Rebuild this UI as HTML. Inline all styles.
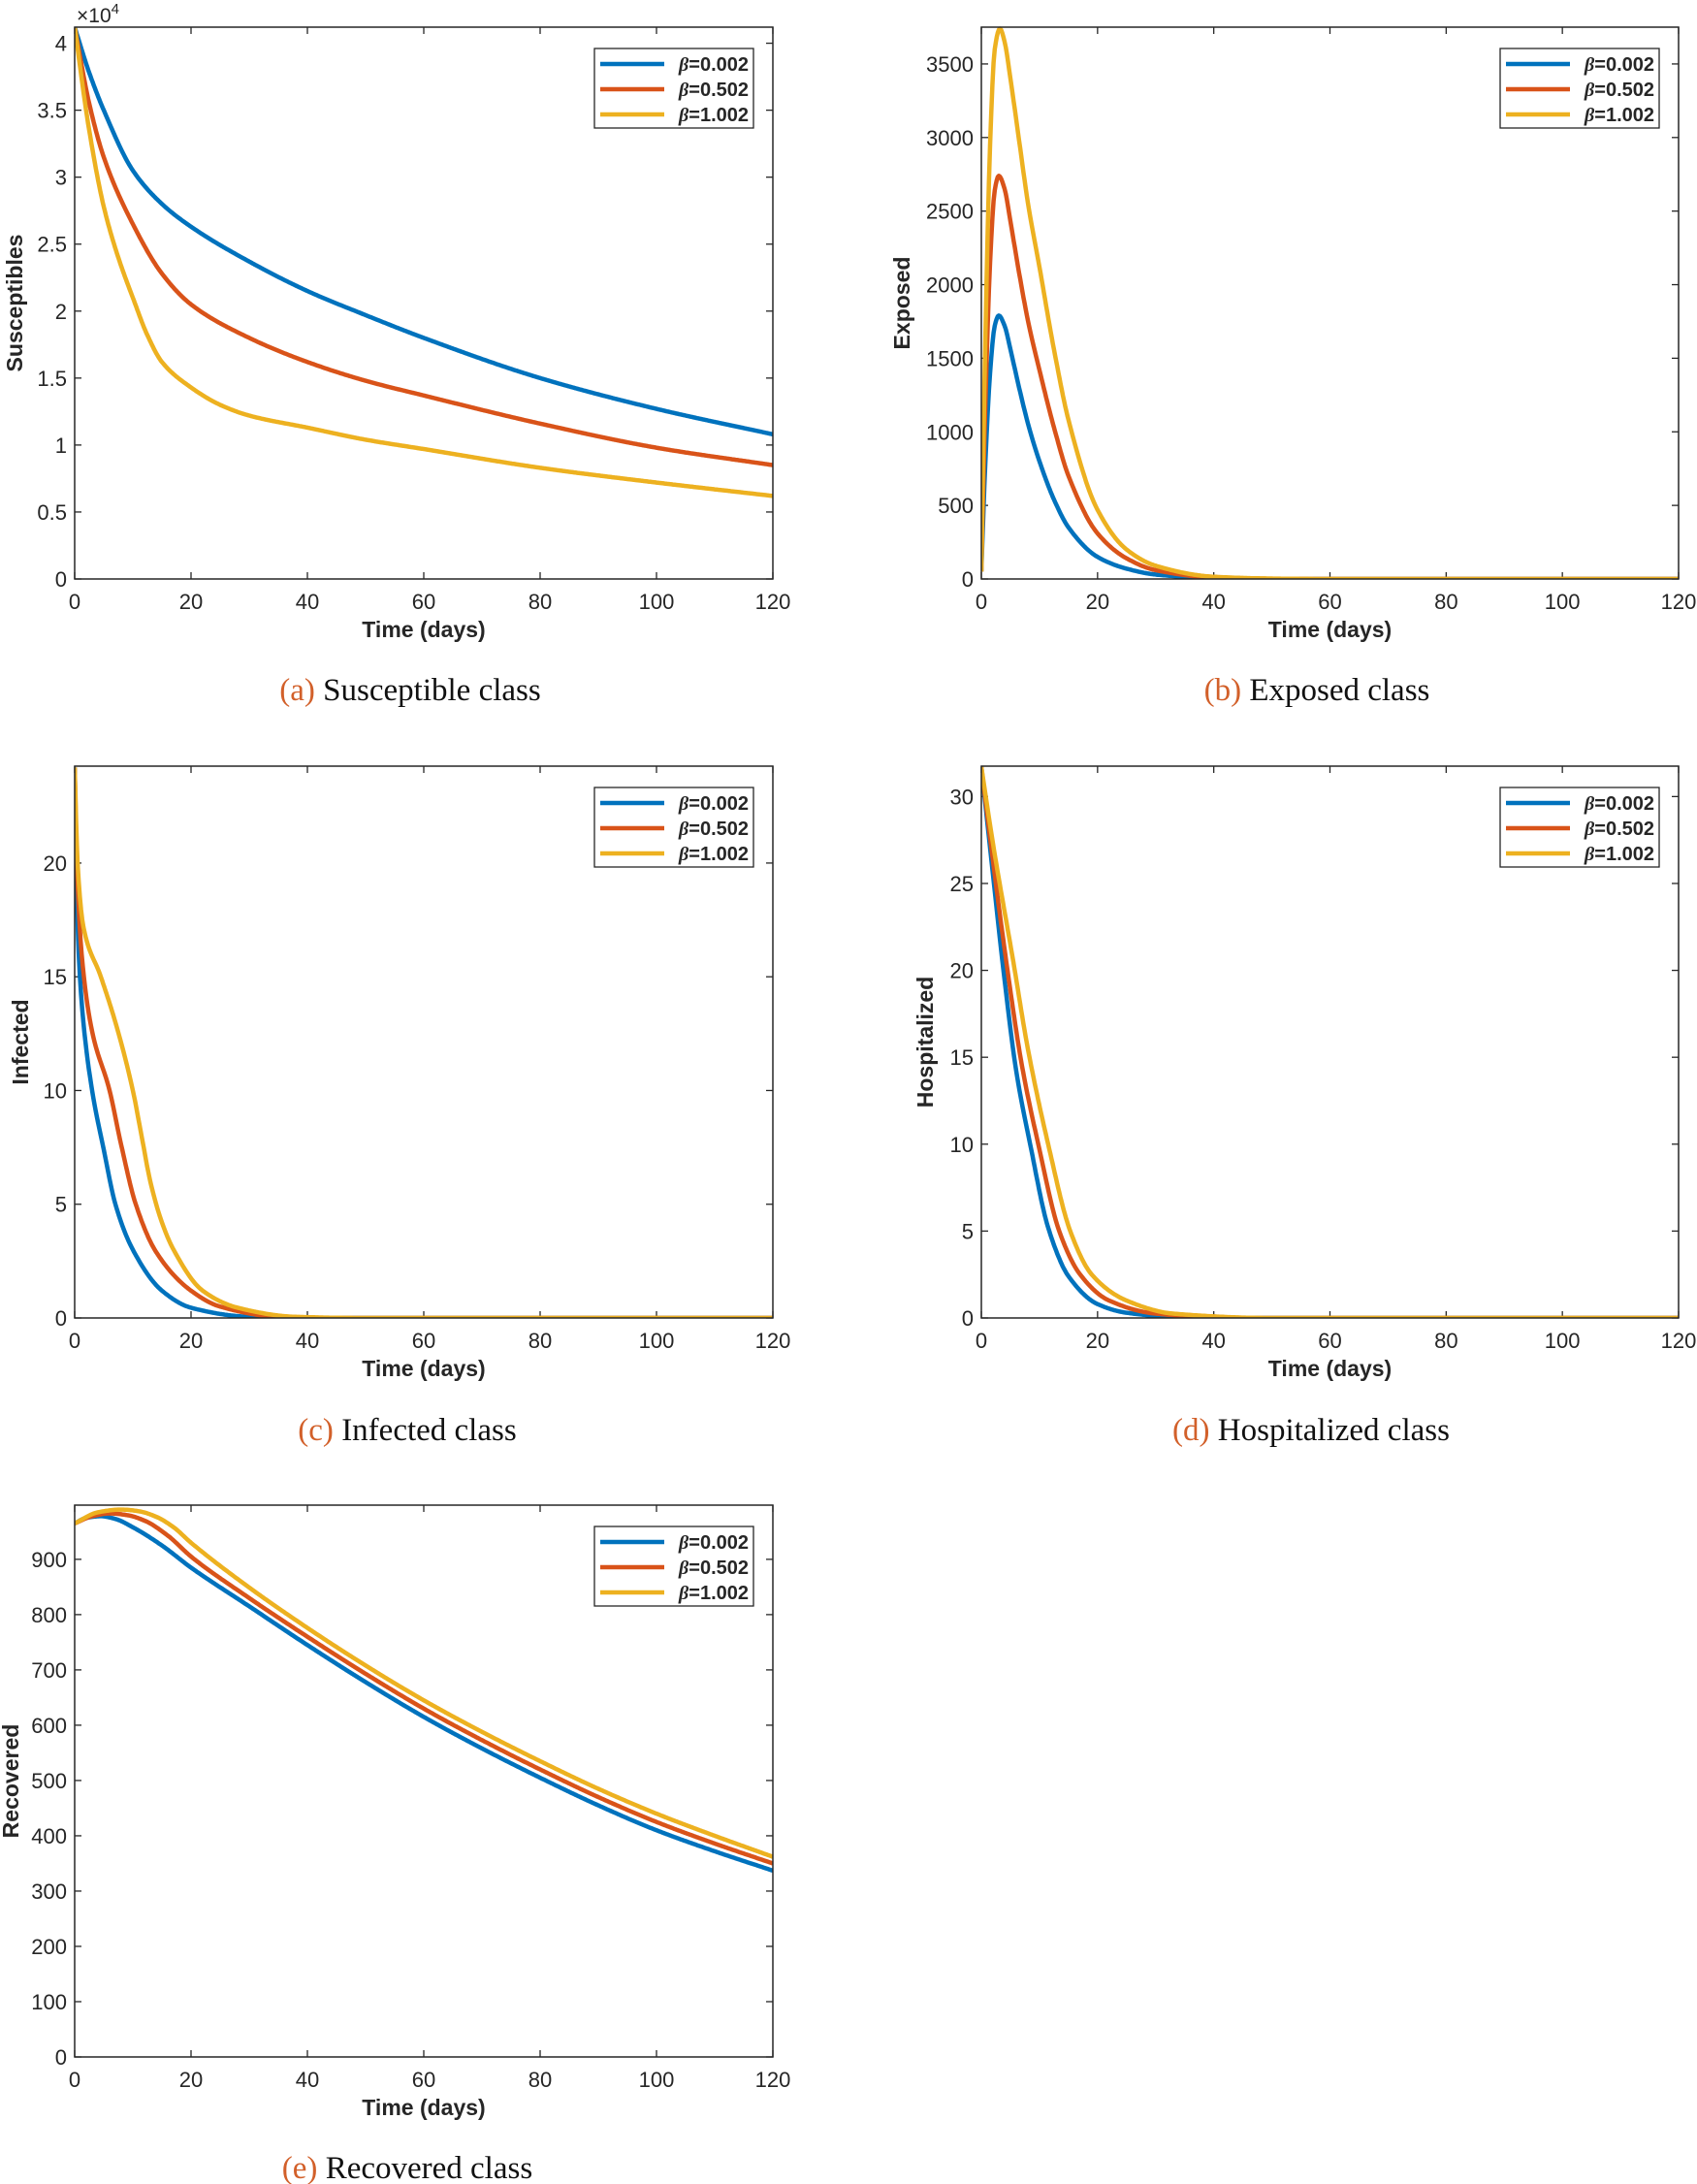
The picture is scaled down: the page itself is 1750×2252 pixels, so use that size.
<!DOCTYPE html>
<html><head><meta charset="utf-8">
<style>
body{margin:0;background:#fff;}
svg{display:block;}
text{font-family:"Liberation Sans",Arial,sans-serif;fill:#262626;}
.cap{font-family:"Liberation Serif",serif;font-size:33px;fill:#111;}
.capl{fill:#d2602a;}
</style></head>
<body>
<svg id="s" width="1750" height="2252" xmlns="http://www.w3.org/2000/svg"></svg>
<script>
const S=document.getElementById('s');
let out='';
const C=['#0072BD','#D95319','#EDB120'];
function mono(pts){
  const n=pts.length,x=pts.map(p=>p[0]),y=pts.map(p=>p[1]);
  const d=[],m=[];
  for(let i=0;i<n-1;i++)d.push((y[i+1]-y[i])/(x[i+1]-x[i]));
  m[0]=d[0];m[n-1]=d[n-2];
  for(let i=1;i<n-1;i++){
    if(d[i-1]*d[i]<=0)m[i]=0;
    else{const h0=x[i]-x[i-1],h1=x[i+1]-x[i];const w1=2*h1+h0,w2=h1+2*h0;m[i]=(w1+w2)/(w1/d[i-1]+w2/d[i]);}
  }
  // local max detection keeps 0 slope; fine
  const res=[];
  for(let i=0;i<n-1;i++){
    const h=x[i+1]-x[i];const steps=Math.max(4,Math.ceil(h/0.2));
    for(let k=0;k<steps;k++){
      const t=k/steps,t2=t*t,t3=t2*t;
      const v=(2*t3-3*t2+1)*y[i]+(t3-2*t2+t)*h*m[i]+(-2*t3+3*t2)*y[i+1]+(t3-t2)*h*m[i+1];
      res.push([x[i]+t*h,v]);
    }
  }
  res.push(pts[n-1]);
  return res;
}
function path(pts,X,Y){
  const p=mono(pts);
  return 'M'+p.map(a=>X(a[0]).toFixed(1)+','+Y(a[1]).toFixed(1)).join('L');
}
function plot(o){
  const L=o.x,T=o.y,W=o.w,H=o.h,R=L+W,B=T+H;
  const X=t=>L+t/120*W, Y=v=>B-v/o.ymax*H;
  out+=`<defs><clipPath id="c${o.id}"><rect x="${L}" y="${T-3}" width="${W}" height="${H+3}"/></clipPath></defs>`;
  for(let t=0;t<=120;t+=20){const x=X(t);
    out+=`<line x1="${x}" y1="${B}" x2="${x}" y2="${B-7}" stroke="#262626" stroke-width="1.3"/><line x1="${x}" y1="${T}" x2="${x}" y2="${T+7}" stroke="#262626" stroke-width="1.3"/>`;
    out+=`<text x="${x}" y="${B+31}" font-size="22" text-anchor="middle">${t}</text>`;}
  o.yt.forEach(v=>{const y=Y(v);
    out+=`<line x1="${L}" y1="${y}" x2="${L+7}" y2="${y}" stroke="#262626" stroke-width="1.3"/><line x1="${R}" y1="${y}" x2="${R-7}" y2="${y}" stroke="#262626" stroke-width="1.3"/>`;
    out+=`<text x="${L-8}" y="${y+8}" font-size="22" text-anchor="end">${v}</text>`;});
  o.series.forEach((s,i)=>{out+=`<path d="${path(s,X,Y)}" fill="none" stroke="${C[i]}" stroke-width="4.5" stroke-linejoin="round" clip-path="url(#c${o.id})"/>`;});
  out+=`<rect x="${L}" y="${T}" width="${W}" height="${H}" fill="none" stroke="#262626" stroke-width="1.5"/>`;
  const lx=R-184,ly=T+22;
  out+=`<rect x="${lx}" y="${ly}" width="164" height="82" fill="#fff" stroke="#262626" stroke-width="1.3"/>`;
  ['0.002','0.502','1.002'].forEach((b,i)=>{const yy=ly+16+i*26;
    out+=`<line x1="${lx+6}" y1="${yy}" x2="${lx+72}" y2="${yy}" stroke="${C[i]}" stroke-width="4.5"/>`;
    out+=`<text x="${lx+159}" y="${yy+7}" font-size="20" font-weight="bold" text-anchor="end"><tspan font-family="Liberation Serif" font-style="italic">β</tspan>=${b}</text>`;});
  out+=`<text x="${(L+R)/2}" y="${B+60}" font-size="23" font-weight="bold" text-anchor="middle">Time (days)</text>`;
  out+=`<text transform="translate(${o.lx},${(T+B)/2}) rotate(-90)" font-size="23" font-weight="bold" text-anchor="middle">${o.label}</text>`;
  out+=`<text class="cap" x="${o.cx}" y="${o.cy}" text-anchor="middle"><tspan class="capl">(${o.id})</tspan> ${o.cap}</text>`;
}
plot({id:'a',x:77,y:28,w:720,h:569,ymax:4.12,yt:[0,0.5,1,1.5,2,2.5,3,3.5,4],label:'Susceptibles',lx:23,cap:'Susceptible class',cx:423,cy:722,
series:[
[[0,4.12],[2.5,3.78],[5,3.5],[10,3.05],[15,2.8],[20,2.63],[30,2.37],[40,2.15],[50,1.97],[60,1.8],[80,1.5],[100,1.27],[120,1.08]],
[[0,4.12],[2.5,3.55],[5,3.15],[10,2.65],[15,2.28],[20,2.05],[30,1.8],[40,1.62],[50,1.48],[60,1.37],[80,1.16],[100,0.98],[120,0.85]],
[[0,4.12],[2.5,3.35],[5,2.78],[7.5,2.4],[10,2.1],[12.5,1.82],[15,1.62],[20,1.43],[25,1.3],[30,1.22],[40,1.13],[50,1.04],[60,0.97],[80,0.83],[100,0.72],[120,0.62]]]});
out+=`<text x="79" y="23" font-size="21">×10<tspan dy="-9" font-size="15">4</tspan></text>`;
plot({id:'b',x:1012,y:28,w:719,h:569,ymax:3750,yt:[0,500,1000,1500,2000,2500,3000,3500],label:'Exposed',lx:938,cap:'Exposed class',cx:1358,cy:722,
series:[
[[0,50],[0.7,800],[1.5,1400],[2.3,1720],[3,1790],[4,1720],[5,1560],[6.5,1300],[8,1060],[10,800],[12.5,540],[15,350],[20,150],[25,70],[30,30],[40,6],[50,1],[60,0],[120,0]],
[[0,50],[0.7,1200],[1.5,2150],[2.3,2640],[3,2740],[4,2650],[5,2430],[6.5,2080],[8,1760],[10,1420],[12.5,1030],[15,700],[20,310],[25,140],[30,60],[40,10],[50,2],[60,0],[120,0]],
[[0,50],[0.7,1650],[1.5,2950],[2.3,3600],[3.2,3740],[4,3650],[5,3400],[6.5,2980],[8,2560],[10,2120],[12.5,1560],[15,1080],[20,470],[25,200],[30,90],[40,15],[50,3],[60,0],[120,0]]]});
plot({id:'c',x:77,y:790,w:720,h:569,ymax:24.26,yt:[0,5,10,15,20],label:'Infected',lx:29,cap:'Infected class',cx:420,cy:1485,
series:[
[[0,24.2],[0.3,19.5],[0.7,16],[1.5,13],[3,10],[5,7.4],[7,5],[10,3],[15,1.2],[20,0.45],[30,0.05],[40,0],[120,0]],
[[0,24.2],[0.4,19.8],[1.2,16],[3,12.6],[6,10],[8,7.6],[10.5,5],[14,2.9],[20,1.2],[25,0.5],[35,0.05],[45,0],[120,0]],
[[0,24.2],[0.5,20],[1.5,17.2],[4.5,15],[7,13],[10,10],[11.5,8],[13,6],[15,4.2],[17,3],[22,1.2],[28,0.45],[38,0.05],[50,0],[120,0]]]});
plot({id:'d',x:1012,y:790,w:719,h:569,ymax:31.75,yt:[0,5,10,15,20,25,30],label:'Hospitalized',lx:962,cap:'Hospitalized class',cx:1352,cy:1485,
series:[
[[0,31.7],[2,25.5],[3.8,20],[6,14.2],[8.4,10],[11.5,5.2],[15,2.4],[20,0.8],[25,0.3],[35,0.03],[45,0],[120,0]],
[[0,31.7],[2,26.3],[4.5,20],[7,14.5],[9.8,10],[13.4,5],[17,2.5],[22,1],[30,0.25],[45,0],[120,0]],
[[0,31.7],[2,27.3],[5.5,20.5],[8,15.5],[11.5,10],[15.3,5],[19,2.5],[25,1],[33,0.25],[50,0],[120,0]]]});
plot({id:'e',x:77,y:1552,w:720,h:569,ymax:998,yt:[0,100,200,300,400,500,600,700,800,900],label:'Recovered',lx:19,cap:'Recovered class',cx:420,cy:2246,
series:[
[[0,965],[2,975],[4.5,978],[7,973],[10,958],[15,925],[20,885],[30,815],[40,745],[50,678],[60,615],[70,558],[80,505],[90,455],[100,410],[110,372],[120,337]],
[[0,965],[3,978],[6,983],[9,980],[12,970],[16,943],[20,905],[30,830],[40,760],[50,693],[60,630],[70,573],[80,520],[90,470],[100,425],[110,386],[120,350]],
[[0,965],[4,985],[8,990],[11,987],[14,977],[17,958],[20,930],[30,849],[40,776],[50,708],[60,645],[70,588],[80,535],[90,485],[100,440],[110,400],[120,362]]]});
S.innerHTML=out;
</script>
</body></html>
